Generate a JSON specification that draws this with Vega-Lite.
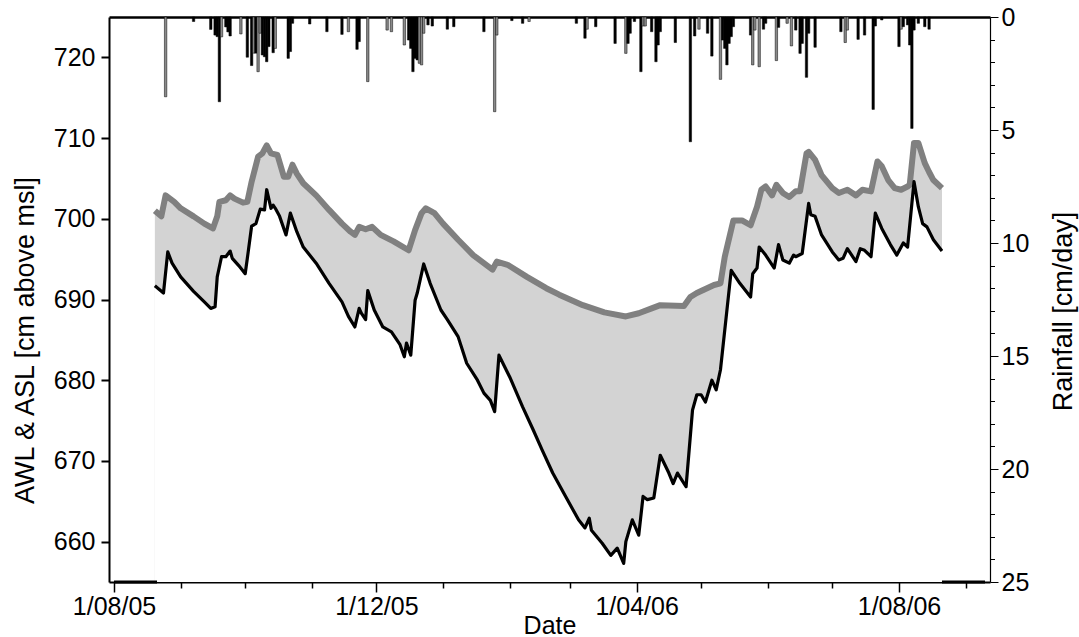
{
  "$schema": "https://vega.github.io/schema/vega-lite/v6.json",
  "width": 881,
  "height": 565,
  "autosize": "none",
  "padding": {"left": 109, "top": 17, "right": 89, "bottom": 55},
  "background": "#ffffff",
  "config": {
    "view": {"stroke": null},
    "font": "Liberation Sans",
    "axis": {
      "labelFont": "Liberation Sans",
      "titleFont": "Liberation Sans",
      "labelColor": "#000000",
      "titleColor": "#000000",
      "titleFontWeight": "normal",
      "domainColor": "#000000",
      "tickColor": "#000000",
      "grid": false,
      "zindex": 1
    }
  },
  "datasets": {
    "awl": [
      {"date": "2005-08-20", "level": 701.0}, {"date": "2005-08-23", "level": 700.3}, {"date": "2005-08-25", "level": 702.9},
      {"date": "2005-08-29", "level": 702.1}, {"date": "2005-09-01", "level": 701.3}, {"date": "2005-09-07", "level": 700.3},
      {"date": "2005-09-12", "level": 699.4}, {"date": "2005-09-16", "level": 698.8}, {"date": "2005-09-18", "level": 700.3},
      {"date": "2005-09-19", "level": 702.1}, {"date": "2005-09-22", "level": 702.3}, {"date": "2005-09-24", "level": 702.9},
      {"date": "2005-09-26", "level": 702.5}, {"date": "2005-09-30", "level": 702.0}, {"date": "2005-10-02", "level": 702.1},
      {"date": "2005-10-04", "level": 704.6}, {"date": "2005-10-07", "level": 707.7}, {"date": "2005-10-09", "level": 708.1},
      {"date": "2005-10-11", "level": 709.1}, {"date": "2005-10-13", "level": 708.1}, {"date": "2005-10-16", "level": 707.9},
      {"date": "2005-10-19", "level": 705.2}, {"date": "2005-10-21", "level": 705.2}, {"date": "2005-10-23", "level": 706.7},
      {"date": "2005-10-25", "level": 705.6}, {"date": "2005-10-28", "level": 704.4}, {"date": "2005-11-03", "level": 702.9},
      {"date": "2005-11-09", "level": 701.1}, {"date": "2005-11-15", "level": 699.4}, {"date": "2005-11-19", "level": 698.4},
      {"date": "2005-11-21", "level": 698.0}, {"date": "2005-11-23", "level": 699.0}, {"date": "2005-11-26", "level": 698.7},
      {"date": "2005-11-29", "level": 699.0}, {"date": "2005-12-03", "level": 698.0}, {"date": "2005-12-09", "level": 697.2},
      {"date": "2005-12-16", "level": 696.1}, {"date": "2005-12-19", "level": 698.6}, {"date": "2005-12-22", "level": 700.7},
      {"date": "2005-12-24", "level": 701.3}, {"date": "2005-12-28", "level": 700.7}, {"date": "2006-01-01", "level": 699.4},
      {"date": "2006-01-08", "level": 697.4}, {"date": "2006-01-15", "level": 695.5}, {"date": "2006-01-24", "level": 693.7},
      {"date": "2006-01-26", "level": 694.7}, {"date": "2006-01-31", "level": 694.3}, {"date": "2006-02-09", "level": 692.8},
      {"date": "2006-02-18", "level": 691.4}, {"date": "2006-02-24", "level": 690.6}, {"date": "2006-03-07", "level": 689.3},
      {"date": "2006-03-17", "level": 688.4}, {"date": "2006-03-27", "level": 687.9}, {"date": "2006-04-02", "level": 688.3},
      {"date": "2006-04-08", "level": 688.9}, {"date": "2006-04-12", "level": 689.3}, {"date": "2006-04-23", "level": 689.2},
      {"date": "2006-04-26", "level": 690.3}, {"date": "2006-04-29", "level": 690.8}, {"date": "2006-05-07", "level": 691.8},
      {"date": "2006-05-10", "level": 692.0}, {"date": "2006-05-12", "level": 695.3}, {"date": "2006-05-16", "level": 699.8},
      {"date": "2006-05-20", "level": 699.8}, {"date": "2006-05-24", "level": 699.2}, {"date": "2006-05-27", "level": 701.5},
      {"date": "2006-05-29", "level": 703.6}, {"date": "2006-05-31", "level": 704.0}, {"date": "2006-06-03", "level": 702.9},
      {"date": "2006-06-05", "level": 704.2}, {"date": "2006-06-08", "level": 703.2}, {"date": "2006-06-11", "level": 702.7},
      {"date": "2006-06-14", "level": 703.4}, {"date": "2006-06-16", "level": 703.4}, {"date": "2006-06-19", "level": 708.1},
      {"date": "2006-06-20", "level": 708.3}, {"date": "2006-06-23", "level": 707.3}, {"date": "2006-06-26", "level": 705.4},
      {"date": "2006-07-01", "level": 703.8}, {"date": "2006-07-04", "level": 703.2}, {"date": "2006-07-08", "level": 703.6},
      {"date": "2006-07-12", "level": 702.9}, {"date": "2006-07-15", "level": 703.6}, {"date": "2006-07-19", "level": 703.4},
      {"date": "2006-07-22", "level": 707.1}, {"date": "2006-07-24", "level": 706.5}, {"date": "2006-07-27", "level": 704.8},
      {"date": "2006-07-30", "level": 703.8}, {"date": "2006-08-02", "level": 703.6}, {"date": "2006-08-05", "level": 704.0},
      {"date": "2006-08-06", "level": 704.2}, {"date": "2006-08-08", "level": 709.4}, {"date": "2006-08-10", "level": 709.4},
      {"date": "2006-08-13", "level": 706.9}, {"date": "2006-08-15", "level": 705.8}, {"date": "2006-08-17", "level": 704.8},
      {"date": "2006-08-21", "level": 703.8}
    ],
    "asl": [
      {"date": "2005-08-20", "level": 691.7}, {"date": "2005-08-24", "level": 690.8}, {"date": "2005-08-26", "level": 695.9},
      {"date": "2005-08-28", "level": 694.5}, {"date": "2005-09-01", "level": 692.8}, {"date": "2005-09-07", "level": 691.0},
      {"date": "2005-09-12", "level": 689.7}, {"date": "2005-09-15", "level": 688.9}, {"date": "2005-09-17", "level": 689.1},
      {"date": "2005-09-18", "level": 692.8}, {"date": "2005-09-20", "level": 695.3}, {"date": "2005-09-22", "level": 695.3},
      {"date": "2005-09-24", "level": 696.0}, {"date": "2005-09-25", "level": 695.1}, {"date": "2005-09-28", "level": 694.2},
      {"date": "2005-10-01", "level": 693.2}, {"date": "2005-10-02", "level": 695.1}, {"date": "2005-10-04", "level": 699.1},
      {"date": "2005-10-06", "level": 699.4}, {"date": "2005-10-08", "level": 701.2}, {"date": "2005-10-10", "level": 701.1},
      {"date": "2005-10-11", "level": 703.6}, {"date": "2005-10-13", "level": 701.3}, {"date": "2005-10-14", "level": 701.7},
      {"date": "2005-10-15", "level": 701.3}, {"date": "2005-10-17", "level": 700.3}, {"date": "2005-10-20", "level": 698.0},
      {"date": "2005-10-22", "level": 700.7}, {"date": "2005-10-25", "level": 698.4}, {"date": "2005-10-28", "level": 696.5},
      {"date": "2005-11-03", "level": 694.5}, {"date": "2005-11-09", "level": 692.0}, {"date": "2005-11-15", "level": 689.7},
      {"date": "2005-11-18", "level": 687.9}, {"date": "2005-11-21", "level": 686.6}, {"date": "2005-11-23", "level": 688.9},
      {"date": "2005-11-24", "level": 688.3}, {"date": "2005-11-26", "level": 687.5}, {"date": "2005-11-27", "level": 691.1},
      {"date": "2005-11-30", "level": 688.7}, {"date": "2005-12-04", "level": 686.6}, {"date": "2005-12-08", "level": 686.0},
      {"date": "2005-12-12", "level": 684.4}, {"date": "2005-12-14", "level": 682.9}, {"date": "2005-12-15", "level": 684.6},
      {"date": "2005-12-17", "level": 683.1}, {"date": "2005-12-19", "level": 689.9}, {"date": "2005-12-20", "level": 690.8},
      {"date": "2005-12-23", "level": 694.4}, {"date": "2005-12-26", "level": 692.0}, {"date": "2005-12-31", "level": 688.7},
      {"date": "2006-01-03", "level": 687.5}, {"date": "2006-01-08", "level": 685.4}, {"date": "2006-01-12", "level": 682.1},
      {"date": "2006-01-17", "level": 680.0}, {"date": "2006-01-20", "level": 678.4}, {"date": "2006-01-23", "level": 677.5},
      {"date": "2006-01-25", "level": 676.1}, {"date": "2006-01-27", "level": 683.1}, {"date": "2006-02-01", "level": 680.4},
      {"date": "2006-02-07", "level": 676.7}, {"date": "2006-02-12", "level": 673.8}, {"date": "2006-02-16", "level": 671.4},
      {"date": "2006-02-21", "level": 668.5}, {"date": "2006-02-27", "level": 665.6}, {"date": "2006-03-05", "level": 662.7},
      {"date": "2006-03-08", "level": 661.7}, {"date": "2006-03-10", "level": 662.9}, {"date": "2006-03-11", "level": 661.4},
      {"date": "2006-03-16", "level": 659.8}, {"date": "2006-03-20", "level": 658.3}, {"date": "2006-03-23", "level": 659.2},
      {"date": "2006-03-26", "level": 657.3}, {"date": "2006-03-27", "level": 660.0}, {"date": "2006-03-30", "level": 662.7},
      {"date": "2006-04-02", "level": 660.8}, {"date": "2006-04-04", "level": 665.6}, {"date": "2006-04-06", "level": 665.2},
      {"date": "2006-04-09", "level": 665.4}, {"date": "2006-04-12", "level": 670.7}, {"date": "2006-04-16", "level": 668.5},
      {"date": "2006-04-18", "level": 667.2}, {"date": "2006-04-20", "level": 668.5}, {"date": "2006-04-24", "level": 666.8},
      {"date": "2006-04-27", "level": 676.3}, {"date": "2006-04-29", "level": 678.2}, {"date": "2006-05-01", "level": 678.2},
      {"date": "2006-05-03", "level": 677.3}, {"date": "2006-05-06", "level": 680.0}, {"date": "2006-05-08", "level": 678.8},
      {"date": "2006-05-10", "level": 681.3}, {"date": "2006-05-15", "level": 693.6}, {"date": "2006-05-19", "level": 692.0},
      {"date": "2006-05-24", "level": 690.3}, {"date": "2006-05-25", "level": 693.2}, {"date": "2006-05-27", "level": 693.9},
      {"date": "2006-05-28", "level": 696.5}, {"date": "2006-05-31", "level": 695.5}, {"date": "2006-06-04", "level": 693.9},
      {"date": "2006-06-06", "level": 696.8}, {"date": "2006-06-08", "level": 694.9}, {"date": "2006-06-11", "level": 694.5},
      {"date": "2006-06-13", "level": 695.5}, {"date": "2006-06-14", "level": 695.3}, {"date": "2006-06-17", "level": 695.7},
      {"date": "2006-06-20", "level": 701.9}, {"date": "2006-06-21", "level": 700.5}, {"date": "2006-06-23", "level": 700.3},
      {"date": "2006-06-26", "level": 698.0}, {"date": "2006-07-01", "level": 695.9}, {"date": "2006-07-04", "level": 694.9},
      {"date": "2006-07-06", "level": 695.1}, {"date": "2006-07-08", "level": 696.3}, {"date": "2006-07-12", "level": 694.7},
      {"date": "2006-07-14", "level": 696.3}, {"date": "2006-07-16", "level": 696.1}, {"date": "2006-07-19", "level": 695.3},
      {"date": "2006-07-21", "level": 700.7}, {"date": "2006-07-24", "level": 698.8}, {"date": "2006-07-28", "level": 696.8},
      {"date": "2006-07-31", "level": 695.5}, {"date": "2006-08-03", "level": 697.0}, {"date": "2006-08-05", "level": 696.5},
      {"date": "2006-08-08", "level": 704.6}, {"date": "2006-08-10", "level": 701.5}, {"date": "2006-08-12", "level": 699.4},
      {"date": "2006-08-14", "level": 699.0}, {"date": "2006-08-17", "level": 697.4}, {"date": "2006-08-21", "level": 696.0}
    ],
    "gaps": [
      {"start": "2005-08-01", "end": "2005-08-21", "level": 655},
      {"start": "2006-08-21", "end": "2006-09-10", "level": 655}
    ],
    "rain": [
      {"date": "2005-08-25", "rain": 3.53, "gauge": "G2"}, {"date": "2005-09-07", "rain": 0.2, "gauge": "G1"},
      {"date": "2005-09-15", "rain": 0.55, "gauge": "G1"}, {"date": "2005-09-17", "rain": 0.8, "gauge": "G1"},
      {"date": "2005-09-18", "rain": 0.87, "gauge": "G1"}, {"date": "2005-09-19", "rain": 3.75, "gauge": "G1"},
      {"date": "2005-09-20", "rain": 0.88, "gauge": "G2"}, {"date": "2005-09-22", "rain": 0.44, "gauge": "G1"},
      {"date": "2005-09-23", "rain": 0.66, "gauge": "G1"}, {"date": "2005-09-24", "rain": 0.84, "gauge": "G1"},
      {"date": "2005-09-29", "rain": 0.75, "gauge": "G2"}, {"date": "2005-10-02", "rain": 1.78, "gauge": "G1"},
      {"date": "2005-10-04", "rain": 2.15, "gauge": "G1"}, {"date": "2005-10-05", "rain": 1.6, "gauge": "G2"},
      {"date": "2005-10-06", "rain": 1.6, "gauge": "G1"}, {"date": "2005-10-07", "rain": 2.42, "gauge": "G2"},
      {"date": "2005-10-08", "rain": 0.72, "gauge": "G2"}, {"date": "2005-10-09", "rain": 1.68, "gauge": "G1"},
      {"date": "2005-10-10", "rain": 1.76, "gauge": "G1"}, {"date": "2005-10-11", "rain": 1.98, "gauge": "G1"},
      {"date": "2005-10-12", "rain": 1.31, "gauge": "G1"}, {"date": "2005-10-14", "rain": 1.58, "gauge": "G1"},
      {"date": "2005-10-15", "rain": 1.39, "gauge": "G2"}, {"date": "2005-10-21", "rain": 1.83, "gauge": "G1"},
      {"date": "2005-10-22", "rain": 1.53, "gauge": "G1"}, {"date": "2005-10-23", "rain": 0.28, "gauge": "G1"},
      {"date": "2005-10-31", "rain": 0.31, "gauge": "G1"}, {"date": "2005-11-08", "rain": 0.65, "gauge": "G1"},
      {"date": "2005-11-15", "rain": 0.77, "gauge": "G1"}, {"date": "2005-11-18", "rain": 0.65, "gauge": "G2"},
      {"date": "2005-11-22", "rain": 1.43, "gauge": "G1"}, {"date": "2005-11-23", "rain": 1.09, "gauge": "G1"},
      {"date": "2005-11-27", "rain": 2.86, "gauge": "G2"}, {"date": "2005-12-06", "rain": 0.58, "gauge": "G2"},
      {"date": "2005-12-08", "rain": 0.65, "gauge": "G2"}, {"date": "2005-12-14", "rain": 1.24, "gauge": "G2"},
      {"date": "2005-12-16", "rain": 1.02, "gauge": "G1"}, {"date": "2005-12-17", "rain": 1.39, "gauge": "G1"},
      {"date": "2005-12-18", "rain": 2.42, "gauge": "G1"}, {"date": "2005-12-19", "rain": 1.83, "gauge": "G1"},
      {"date": "2005-12-20", "rain": 1.9, "gauge": "G1"}, {"date": "2005-12-21", "rain": 2.05, "gauge": "G2"},
      {"date": "2005-12-22", "rain": 2.12, "gauge": "G2"}, {"date": "2005-12-23", "rain": 0.72, "gauge": "G2"},
      {"date": "2005-12-25", "rain": 0.35, "gauge": "G1"}, {"date": "2005-12-27", "rain": 0.4, "gauge": "G1"},
      {"date": "2006-01-03", "rain": 0.54, "gauge": "G1"}, {"date": "2006-01-06", "rain": 0.43, "gauge": "G1"},
      {"date": "2006-01-20", "rain": 0.65, "gauge": "G1"}, {"date": "2006-01-25", "rain": 4.19, "gauge": "G2"},
      {"date": "2006-01-26", "rain": 0.8, "gauge": "G2"}, {"date": "2006-02-02", "rain": 0.16, "gauge": "G1"},
      {"date": "2006-02-07", "rain": 0.28, "gauge": "G1"}, {"date": "2006-02-10", "rain": 0.2, "gauge": "G2"},
      {"date": "2006-03-04", "rain": 0.28, "gauge": "G1"}, {"date": "2006-03-08", "rain": 0.94, "gauge": "G1"},
      {"date": "2006-03-09", "rain": 0.54, "gauge": "G2"}, {"date": "2006-03-13", "rain": 0.43, "gauge": "G1"},
      {"date": "2006-03-22", "rain": 1.17, "gauge": "G1"}, {"date": "2006-03-27", "rain": 1.61, "gauge": "G2"},
      {"date": "2006-03-28", "rain": 1.17, "gauge": "G1"}, {"date": "2006-03-29", "rain": 0.72, "gauge": "G1"},
      {"date": "2006-03-31", "rain": 0.2, "gauge": "G1"}, {"date": "2006-04-03", "rain": 2.42, "gauge": "G1"},
      {"date": "2006-04-04", "rain": 0.4, "gauge": "G2"}, {"date": "2006-04-05", "rain": 0.4, "gauge": "G2"},
      {"date": "2006-04-08", "rain": 0.65, "gauge": "G1"}, {"date": "2006-04-10", "rain": 1.98, "gauge": "G1"},
      {"date": "2006-04-11", "rain": 1.24, "gauge": "G1"}, {"date": "2006-04-12", "rain": 0.65, "gauge": "G1"},
      {"date": "2006-04-19", "rain": 1.13, "gauge": "G1"}, {"date": "2006-04-26", "rain": 5.52, "gauge": "G1"},
      {"date": "2006-04-28", "rain": 0.84, "gauge": "G1"}, {"date": "2006-04-30", "rain": 0.54, "gauge": "G2"},
      {"date": "2006-05-04", "rain": 0.72, "gauge": "G1"}, {"date": "2006-05-06", "rain": 1.73, "gauge": "G1"},
      {"date": "2006-05-10", "rain": 2.76, "gauge": "G2"}, {"date": "2006-05-11", "rain": 1.02, "gauge": "G1"},
      {"date": "2006-05-12", "rain": 1.39, "gauge": "G1"}, {"date": "2006-05-13", "rain": 2.12, "gauge": "G1"},
      {"date": "2006-05-14", "rain": 1.17, "gauge": "G1"}, {"date": "2006-05-15", "rain": 0.87, "gauge": "G1"},
      {"date": "2006-05-16", "rain": 0.43, "gauge": "G1"}, {"date": "2006-05-24", "rain": 0.8, "gauge": "G1"},
      {"date": "2006-05-25", "rain": 2.12, "gauge": "G2"}, {"date": "2006-05-26", "rain": 0.58, "gauge": "G2"},
      {"date": "2006-05-28", "rain": 2.2, "gauge": "G2"}, {"date": "2006-05-30", "rain": 0.54, "gauge": "G1"},
      {"date": "2006-05-31", "rain": 0.28, "gauge": "G1"}, {"date": "2006-06-05", "rain": 1.93, "gauge": "G2"},
      {"date": "2006-06-06", "rain": 0.46, "gauge": "G1"}, {"date": "2006-06-10", "rain": 0.28, "gauge": "G2"},
      {"date": "2006-06-12", "rain": 1.28, "gauge": "G2"}, {"date": "2006-06-14", "rain": 0.58, "gauge": "G1"},
      {"date": "2006-06-16", "rain": 1.61, "gauge": "G1"}, {"date": "2006-06-17", "rain": 1.17, "gauge": "G1"},
      {"date": "2006-06-19", "rain": 2.67, "gauge": "G1"}, {"date": "2006-06-20", "rain": 0.72, "gauge": "G1"},
      {"date": "2006-06-23", "rain": 1.34, "gauge": "G1"}, {"date": "2006-07-05", "rain": 0.65, "gauge": "G1"},
      {"date": "2006-07-07", "rain": 1.13, "gauge": "G2"}, {"date": "2006-07-08", "rain": 0.58, "gauge": "G2"},
      {"date": "2006-07-13", "rain": 0.99, "gauge": "G1"}, {"date": "2006-07-16", "rain": 0.8, "gauge": "G1"},
      {"date": "2006-07-20", "rain": 4.09, "gauge": "G1"}, {"date": "2006-07-21", "rain": 0.4, "gauge": "G1"},
      {"date": "2006-07-24", "rain": 0.13, "gauge": "G1"}, {"date": "2006-08-01", "rain": 1.31, "gauge": "G1"},
      {"date": "2006-08-02", "rain": 0.54, "gauge": "G2"}, {"date": "2006-08-03", "rain": 0.43, "gauge": "G1"},
      {"date": "2006-08-05", "rain": 0.35, "gauge": "G1"}, {"date": "2006-08-06", "rain": 1.24, "gauge": "G1"},
      {"date": "2006-08-07", "rain": 4.93, "gauge": "G1"}, {"date": "2006-08-08", "rain": 0.58, "gauge": "G1"},
      {"date": "2006-08-10", "rain": 0.28, "gauge": "G1"}, {"date": "2006-08-13", "rain": 0.43, "gauge": "G1"},
      {"date": "2006-08-15", "rain": 0.54, "gauge": "G1"}
    ]
  },
  "layer": [
    {
      "layer": [
        {
          "data": {"name": "awl"},
          "mark": {"type": "area", "fill": "#d3d3d3"},
          "encoding": {
            "x": {
              "field": "date",
              "type": "temporal",
              "scale": {"type": "utc", "domain": [{"year": 2005, "month": 8, "date": 1, "utc": true}, {"year": 2006, "month": 9, "date": 10, "utc": true}]},
              "axis": {
                "orient": "bottom",
                "title": "Date",
                "titleFontSize": 25,
                "titlePadding": -6,
                "values": [
                  {"year": 2005, "month": 8, "date": 1, "utc": true}, {"year": 2005, "month": 9, "date": 1, "utc": true},
                  {"year": 2005, "month": 10, "date": 1, "utc": true}, {"year": 2005, "month": 11, "date": 1, "utc": true},
                  {"year": 2005, "month": 12, "date": 1, "utc": true}, {"year": 2006, "month": 1, "date": 1, "utc": true},
                  {"year": 2006, "month": 2, "date": 1, "utc": true}, {"year": 2006, "month": 3, "date": 1, "utc": true},
                  {"year": 2006, "month": 4, "date": 1, "utc": true}, {"year": 2006, "month": 5, "date": 1, "utc": true},
                  {"year": 2006, "month": 6, "date": 1, "utc": true}, {"year": 2006, "month": 7, "date": 1, "utc": true},
                  {"year": 2006, "month": 8, "date": 1, "utc": true}, {"year": 2006, "month": 9, "date": 1, "utc": true}
                ],
                "labelExpr": "utcmonth(datum.value) % 4 == 3 ? utcFormat(datum.value, '%-d/%m/%y') : ''",
                "tickSize": {"condition": {"test": "utcmonth(datum.value) % 4 == 3", "value": 10}, "value": 6},
                "tickWidth": 1.5,
                "domainWidth": 2,
                "labelFontSize": 25,
                "labelPadding": 2,
                "labelOverlap": false,
                "labelFlush": false
              }
            },
            "y": {
              "field": "level",
              "type": "quantitative",
              "scale": {"domain": [655, 725], "zero": false, "nice": false},
              "axis": {
                "orient": "left",
                "title": "AWL & ASL [cm above msl]",
                "titleFontSize": 27,
                "titlePadding": 14,
                "titleY": 323,
                "values": [660, 670, 680, 690, 700, 710, 720],
                "tickSize": 8,
                "tickWidth": 2,
                "domainWidth": 2,
                "labelFontSize": 25,
                "labelPadding": 6
              }
            },
            "y2": {"datum": 655}
          }
        },
        {
          "data": {"name": "asl"},
          "mark": {"type": "area", "fill": "#ffffff"},
          "encoding": {
            "x": {"field": "date", "type": "temporal"},
            "y": {"field": "level", "type": "quantitative"},
            "y2": {"datum": 655}
          }
        },
        {
          "data": {"name": "gaps"},
          "mark": {"type": "rule", "color": "#000000", "strokeWidth": 3},
          "encoding": {
            "x": {"field": "start", "type": "temporal"},
            "x2": {"field": "end"},
            "y": {"field": "level", "type": "quantitative"}
          }
        },
        {
          "data": {"name": "awl"},
          "mark": {"type": "line", "color": "#808080", "strokeWidth": 6, "strokeJoin": "round"},
          "encoding": {
            "x": {"field": "date", "type": "temporal"},
            "y": {"field": "level", "type": "quantitative"}
          }
        },
        {
          "data": {"name": "asl"},
          "mark": {"type": "line", "color": "#000000", "strokeWidth": 3.2, "strokeJoin": "round"},
          "encoding": {
            "x": {"field": "date", "type": "temporal"},
            "y": {"field": "level", "type": "quantitative"}
          }
        }
      ]
    },
    {
      "data": {"name": "rain"},
      "mark": {"type": "bar", "width": 2.4, "stroke": "#000000", "strokeWidth": 0.5},
      "encoding": {
        "x": {
          "field": "date",
          "type": "temporal",
          "axis": {"orient": "top", "title": null, "labels": false, "ticks": false, "domainWidth": 2.5}
        },
        "y": {
          "field": "rain",
          "type": "quantitative",
          "scale": {"domain": [0, 25], "reverse": true, "nice": false},
          "axis": {
            "orient": "right",
            "title": "Rainfall [cm/day]",
            "titleAngle": 270,
            "titleFontSize": 27,
            "titlePadding": 49,
            "titleY": 294,
            "values": [0, 1, 2, 3, 4, 5, 6, 7, 8, 9, 10, 11, 12, 13, 14, 15, 16, 17, 18, 19, 20, 21, 22, 23, 24, 25],
            "labelExpr": "datum.value % 5 == 0 ? datum.label : ''",
            "tickSize": {"condition": {"test": "datum.value % 5 == 0", "value": 8}, "value": 4.5},
            "tickWidth": 1,
            "domainWidth": 1.2,
            "labelFontSize": 25,
            "labelPadding": 3
          }
        },
        "color": {
          "field": "gauge",
          "type": "nominal",
          "scale": {"domain": ["G1", "G2"], "range": ["#000000", "#8a8a8a"]},
          "legend": null
        }
      }
    }
  ],
  "resolve": {"scale": {"y": "independent"}, "axis": {"x": "independent", "y": "independent"}}
}
